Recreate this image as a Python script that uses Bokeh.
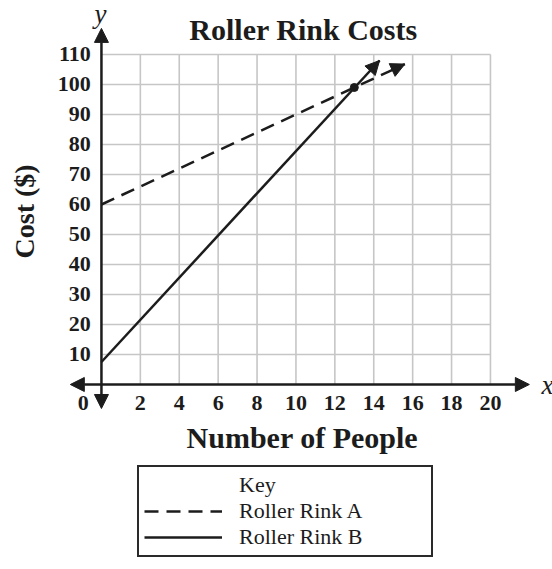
from bokeh.plotting import figure
from bokeh.models import Range1d, Arrow, NormalHead, Label, Legend, LegendItem
from bokeh.core.properties import value
from bokeh.embed import file_html
from bokeh.resources import INLINE
import math

# ---- data ----
x_ticks = [2, 4, 6, 8, 10, 12, 14, 16, 18, 20]
y_ticks = [10, 20, 30, 40, 50, 60, 70, 80, 90, 100, 110]
x_tick_labels = [str(t) for t in x_ticks]
y_tick_labels = [str(t) for t in y_ticks]
people_a = [0, 15.6]          # Roller Rink A (dashed)
cost_a = [60, 106.8]
people_b = [0, 14.3]          # Roller Rink B (solid)
cost_b = [7.5, 108.0]
meet_x = [13]                 # intersection point
meet_y = [99]
x_axis_extent = [-1.6, 22.0]  # arrowed x axis
y_axis_extent = [-8, 118.7]   # arrowed y axis

SERIF = "Liberation Serif"
INK = "#1c1c1c"
GRID = "#c6c6c6"

# the frame covers the whole canvas so that arrows, labels and key are not clipped
p = figure(width=552, height=569, x_range=Range1d(-5.19, 23.19), y_range=Range1d(-61.67, 128),
           output_backend="svg", toolbar_location=None, min_border=0)
p.background_fill_color = "white"
p.border_fill_color = "white"
p.outline_line_color = None
p.axis.visible = False
p.grid.visible = False

x_max = x_ticks[-1]
y_max = y_ticks[-1]

# grid from the tick lists
p.segment(x0=x_ticks, y0=[0] * len(x_ticks), x1=x_ticks, y1=[y_max] * len(x_ticks),
          line_color=GRID, line_width=1.6)
p.segment(x0=[0] * len(y_ticks), y0=y_ticks, x1=[x_max] * len(y_ticks), y1=y_ticks,
          line_color=GRID, line_width=1.6)

# tick labels
p.text(x=x_ticks, y=[-6.3] * len(x_ticks), text=x_tick_labels, text_font=value(SERIF),
       text_font_size="22px", text_font_style="bold", text_color=INK,
       text_align="center", text_baseline="middle")
p.text(x=[-0.55] * len(y_ticks), y=y_ticks, text=y_tick_labels, text_font=value(SERIF),
       text_font_size="22px", text_font_style="bold", text_color=INK,
       text_align="right", text_baseline="middle")

# lines
ra = p.line(people_a, cost_a, line_color=INK, line_width=2.5, line_dash="14 8")
rb = p.line(people_b, cost_b, line_color=INK, line_width=2.5)
p.scatter(meet_x, meet_y, size=8, color=INK)


def head():
    return NormalHead(size=14, fill_color=INK, line_color=INK, line_width=1)


p.add_layout(Arrow(end=head(), x_start=people_a[-2], y_start=cost_a[-2],
                   x_end=people_a[-1], y_end=cost_a[-1], line_alpha=0))
p.add_layout(Arrow(end=head(), x_start=people_b[-2], y_start=cost_b[-2],
                   x_end=people_b[-1], y_end=cost_b[-1], line_alpha=0))

# arrowed axes
p.add_layout(Arrow(start=head(), end=head(), x_start=x_axis_extent[0], y_start=0,
                   x_end=x_axis_extent[1], y_end=0, line_color=INK, line_width=2.5))
p.add_layout(Arrow(start=head(), end=head(), x_start=0, y_start=y_axis_extent[0],
                   x_end=0, y_end=y_axis_extent[1], line_color=INK, line_width=2.5))


def label(x, y, text, size, style="bold", angle=0.0):
    p.add_layout(Label(x=x, y=y, text=text, text_font=SERIF, text_font_size=size,
                       text_font_style=style, text_color=INK, text_align="center",
                       text_baseline="middle", angle=angle))


label(10.39, 118.3, "Roller Rink Costs", "30px")
label(10.33, -17.6, "Number of People", "30px")
label(-3.95, 57.7, "Cost ($)", "28px", angle=math.pi / 2)
label(-0.93, -6.3, "0", "22px")
label(-0.05, 123.6, "y", "27px", style="italic")
label(22.93, -0.3, "x", "27px", style="italic")

legend = Legend(items=[LegendItem(label="Key", renderers=[]),
                       LegendItem(label="Roller Rink A", renderers=[ra]),
                       LegendItem(label="Roller Rink B", renderers=[rb])],
                location=(137, 12), orientation="vertical")
legend.label_text_font = SERIF
legend.label_text_font_size = "22px"
legend.label_text_color = INK
legend.glyph_width = 78
legend.glyph_height = 20
legend.label_standoff = 17
legend.label_width = 187
legend.padding = 5
legend.spacing = 0
legend.margin = 0
legend.border_line_color = "#2a2a2a"
legend.border_line_width = 2
legend.border_line_alpha = 1
legend.background_fill_color = "white"
legend.background_fill_alpha = 1
p.add_layout(legend)

open("out.html", "w").write(file_html(p, INLINE))
